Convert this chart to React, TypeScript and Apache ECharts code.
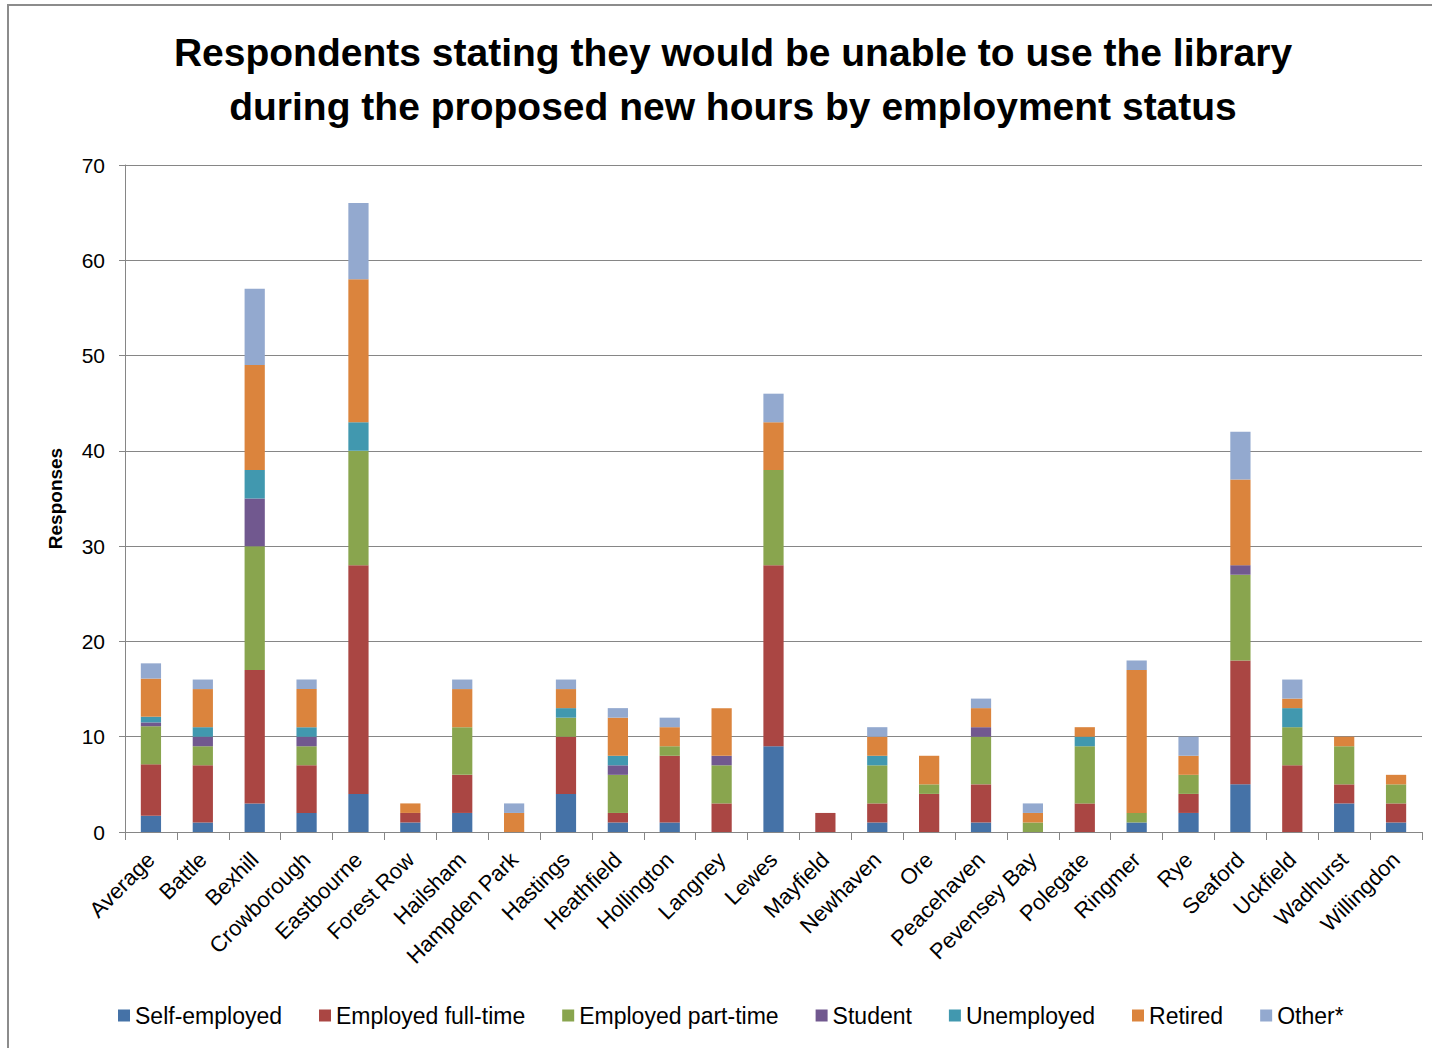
import React, { useEffect, useRef } from "react";
import * as echarts from "echarts";

const categories = ["Average","Battle","Bexhill","Crowborough","Eastbourne","Forest Row","Hailsham","Hampden Park","Hastings","Heathfield","Hollington","Langney","Lewes","Mayfield","Newhaven","Ore","Peacehaven","Pevensey Bay","Polegate","Ringmer","Rye","Seaford","Uckfield","Wadhurst","Willingdon"];

const selfEmployed = [1.7,1,3,2,4,1,2,0,4,1,1,0,9,0,1,0,1,0,0,1,2,5,0,3,1];
const fullTime     = [5.4,6,14,5,24,1,4,0,6,1,7,3,19,2,2,4,4,0,3,0,2,13,7,2,2];
const partTime     = [4.0,2,13,2,12,0,5,0,2,4,1,4,10,0,4,1,5,1,6,1,2,9,4,4,2];
const student      = [0.4,1,5,1,0,0,0,0,0,1,0,1,0,0,0,0,1,0,0,0,0,1,0,0,0];
const unemployed   = [0.6,1,3,1,3,0,0,0,1,1,0,0,0,0,1,0,0,0,1,0,0,0,2,0,0];
const retired      = [4.0,4,11,4,15,1,4,2,2,4,2,5,5,0,2,3,2,1,1,15,2,9,1,1,1];
const other        = [1.6,1,8,1,8,0,1,1,1,1,1,0,3,0,1,0,1,1,0,1,2,5,2,0,0];

const seriesNames = ["Self-employed","Employed full-time","Employed part-time","Student","Unemployed","Retired","Other*"];
const seriesData = [selfEmployed, fullTime, partTime, student, unemployed, retired, other];
const colors = ["#4572A7","#AA4643","#89A54E","#71588F","#4198AF","#DB843D","#93A9CF"];

const yTicks = { min: 0, max: 70, interval: 10 };
const FONT = "'Liberation Sans', Arial, sans-serif";

export default function App() {
  const ref = useRef<HTMLDivElement>(null);
  useEffect(() => {
    if (!ref.current) return;
    const chart = echarts.init(ref.current, null, { renderer: "svg" });
    chart.setOption({
      animation: false,
      backgroundColor: "#fff",
      color: colors,
      textStyle: { fontFamily: FONT },
      title: {
        text: "Respondents stating they would be unable to use the library\nduring the proposed new hours by employment status",
        left: 728,
        top: 20,
        textAlign: "center",
        textStyle: { fontFamily: FONT, fontSize: 39, fontWeight: "bold", color: "#000", lineHeight: 54 },
      },
      graphic: [
        { type: "rect", shape: { x: 8, y: 5, width: 1500, height: 1100 }, style: { fill: "none", stroke: "#8c8c8c", lineWidth: 2 }, silent: true },
      ],
      legend: {
        left: 113,
        top: 999,
        itemWidth: 12,
        itemHeight: 12,
        itemGap: 37,
        icon: "rect",
        textStyle: { fontFamily: FONT, fontSize: 23, color: "#000", padding: [0, 0, 0, 0] },
        data: seriesNames,
      },
      grid: { left: 125, right: 10, top: 165, bottom: 216, containLabel: false },
      xAxis: {
        type: "category",
        data: categories,
        axisLine: { lineStyle: { color: "#868686", width: 1 } },
        axisTick: { show: true, length: 8, lineStyle: { color: "#868686" } },
        axisLabel: { rotate: 45, fontSize: 22, color: "#000", margin: 24, interval: 0, fontFamily: FONT },
      },
      yAxis: {
        type: "value",
        min: yTicks.min,
        max: yTicks.max,
        interval: yTicks.interval,
        name: "Responses",
        nameLocation: "middle",
        nameRotate: 90,
        nameGap: 60,
        nameTextStyle: { fontFamily: FONT, fontSize: 19, fontWeight: "bold", color: "#000" },
        axisLine: { show: true, lineStyle: { color: "#868686", width: 1 } },
        axisTick: { show: true, length: 6, lineStyle: { color: "#868686" } },
        axisLabel: { fontSize: 21, color: "#000", margin: 20, fontFamily: FONT },
        splitLine: { show: true, lineStyle: { color: "#868686", width: 1 } },
      },
      series: seriesNames.map((name, i) => ({
        name,
        type: "bar",
        stack: "total",
        barWidth: "39%",
        data: seriesData[i],
        itemStyle: { color: colors[i] },
      })),
    });
    return () => chart.dispose();
  }, []);
  return <div ref={ref} style={{ position: "absolute", left: 0, top: 0, width: 1432, height: 1048 }} />;
}
